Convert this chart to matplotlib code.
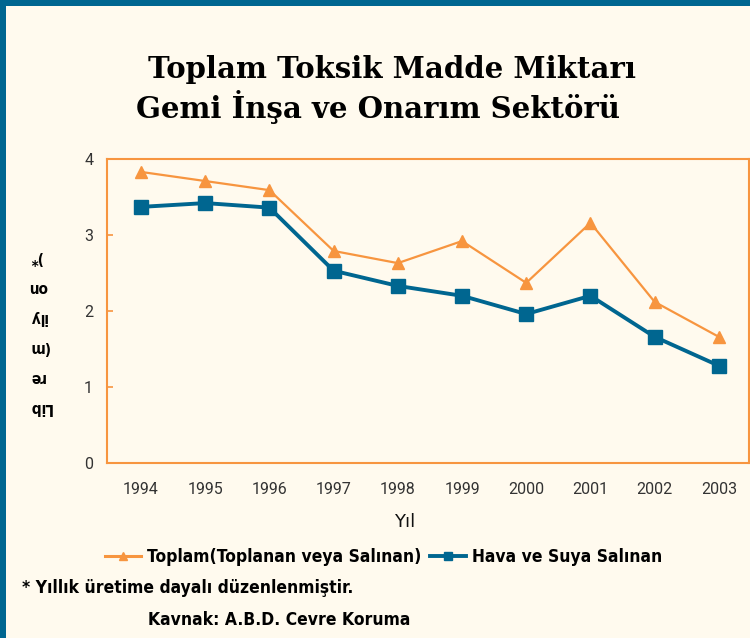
import matplotlib
matplotlib.use("Agg")
import matplotlib.pyplot as plt
from matplotlib.lines import Line2D
from matplotlib.patches import Rectangle

years = [1994, 1995, 1996, 1997, 1998, 1999, 2000, 2001, 2002, 2003]
toplam = [3.83, 3.71, 3.59, 2.79, 2.63, 2.92, 2.37, 3.16, 2.12, 1.66]
hava_su = [3.37, 3.42, 3.36, 2.53, 2.33, 2.20, 1.96, 2.20, 1.66, 1.28]
y_ticks = [0, 1, 2, 3, 4]

title1 = "Toplam Toksik Madde Miktarı"
title2 = "Gemi İnşa ve Onarım Sektörü"
ylabel = "Lib\nre\n(m\nily\non\n)*"
xlabel = "Yıl"
legend_labels = ["Toplam(Toplanan veya Salınan)", "Hava ve Suya Salınan"]
note = "* Yıllık üretime dayalı düzenlenmiştir."
source = "Kavnak: A.B.D. Cevre Koruma"

BG = "#FFFAEE"
ORANGE = "#F7953F"
BLUE = "#006690"

W, H = 750, 638
fig = plt.figure(figsize=(W / 100, H / 100), dpi=100, facecolor=BG)

def fx(px):
    return px / W

def fy(py):
    return 1 - py / H

COND = dict(family="DejaVu Sans", fontstretch="condensed", fontweight="bold")

# border
fig.patches.append(Rectangle((0, fy(6)), 1, 6 / H, transform=fig.transFigure,
                             facecolor=BLUE, edgecolor="none"))
fig.patches.append(Rectangle((0, 0), 6 / W, 1, transform=fig.transFigure,
                             facecolor=BLUE, edgecolor="none"))

ax = fig.add_axes([fx(107), fy(463), fx(749) - fx(107), fy(159) - fy(463)])
ax.set_facecolor(BG)
ax.plot(years, toplam, color=ORANGE, lw=1.6, marker="^", ms=9, mec=ORANGE, mfc=ORANGE, zorder=3)
ax.plot(years, hava_su, color=BLUE, lw=2.8, marker="s", ms=10, mec=BLUE, mfc=BLUE, zorder=3)

ax.set_xlim(1993.47, 2003.47)
ax.set_ylim(0, 4)
ax.set_xticks(years)
ax.set_xticklabels([str(y) for y in years])
ax.set_yticks(y_ticks)
for s in ax.spines.values():
    s.set_color(ORANGE)
    s.set_linewidth(1.5)
ax.tick_params(axis="x", length=0, pad=14, labelsize=11.5, labelcolor="#333333")
ax.tick_params(axis="y", direction="in", length=4, color=ORANGE, width=1.2,
               pad=10, labelsize=11.5, labelcolor="#333333")
for lab in ax.get_xticklabels() + ax.get_yticklabels():
    lab.set_family("Roboto")

fig.text(fx(405), fy(522), xlabel, ha="center", va="center", fontsize=13,
         family="DejaVu Sans", color="#111111")

fig.text(fx(40), fy(332), ylabel, ha="center", va="center", rotation=180,
         fontsize=11, linespacing=2.25, multialignment="right", **COND)

fig.text(fx(392), fy(70), title1, ha="center", va="center", fontsize=21,
         family="DejaVu Serif", fontweight="black")
fig.text(fx(378), fy(107), title2, ha="center", va="center", fontsize=21,
         family="DejaVu Serif", fontweight="black")

h1 = Line2D([], [], color=ORANGE, lw=2.2, marker="^", ms=6)
h2 = Line2D([], [], color=BLUE, lw=2.8, marker="s", ms=6)
fig.legend([h1, h2], legend_labels, loc="center left", bbox_to_anchor=(fx(105), fy(557)),
           ncol=2, frameon=False, handlelength=2.07, handletextpad=0.35, columnspacing=0.5,
           borderpad=0, borderaxespad=0,
           prop={"family": "DejaVu Sans", "stretch": "condensed", "size": 12.5, "weight": "bold"})

fig.text(fx(22), fy(588), note, ha="left", va="center", fontsize=12.5, **COND)
fig.text(fx(148), fy(620), source, ha="left", va="center", fontsize=12.5, **COND)

fig.savefig("out.png", dpi=100, facecolor=BG)
